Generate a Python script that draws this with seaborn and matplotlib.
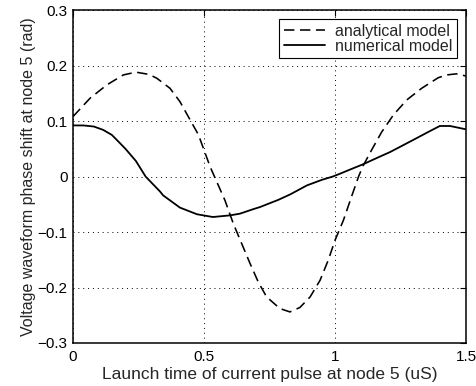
import matplotlib
matplotlib.use("Agg")
import matplotlib.pyplot as plt
import seaborn as sns

# ---- data ----
analytical_x = [0.0, 0.065, 0.129, 0.192, 0.24, 0.29, 0.32, 0.37, 0.408, 0.447,
                0.479, 0.523, 0.58, 0.612, 0.644, 0.676, 0.707, 0.739, 0.79, 0.828,
                0.866, 0.905, 0.943, 0.974, 1.0, 1.032, 1.064, 1.09, 1.107, 1.14,
                1.178, 1.223, 1.274, 1.331, 1.394, 1.426, 1.464, 1.5]
analytical_y = [0.108, 0.141, 0.165, 0.183, 0.188, 0.184, 0.177, 0.159, 0.135, 0.102,
                0.075, 0.018, -0.043, -0.085, -0.121, -0.157, -0.19, -0.217, -0.238, -0.244,
                -0.236, -0.217, -0.187, -0.151, -0.115, -0.079, -0.035, 0.0, 0.019, 0.048,
                0.08, 0.111, 0.138, 0.159, 0.178, 0.183, 0.185, 0.181]

numerical_x = [0.0, 0.04, 0.08, 0.115, 0.148, 0.167, 0.2, 0.24, 0.277, 0.332,
               0.344, 0.408, 0.473, 0.534, 0.6, 0.637, 0.687, 0.714, 0.784, 0.83,
               0.893, 0.95, 0.992, 1.019, 1.06, 1.107, 1.172, 1.21, 1.299, 1.363,
               1.4, 1.439, 1.5]
numerical_y = [0.092, 0.092, 0.09, 0.084, 0.075, 0.066, 0.05, 0.028, 0.0, -0.027,
               -0.034, -0.056, -0.068, -0.073, -0.07, -0.067, -0.059, -0.055, -0.042, -0.032,
               -0.016, -0.006, 0.0, 0.005, 0.013, 0.022, 0.036, 0.044, 0.066, 0.082,
               0.091, 0.091, 0.085]

series_names = ["analytical model", "numerical model"]
x_ticks = [0, 0.5, 1, 1.5]
x_tick_labels = ["0", "0.5", "1", "1.5"]
y_ticks = [0.3, 0.2, 0.1, 0, -0.1, -0.2, -0.3]
y_tick_labels = ["0.3", "0.2", "0.1", "0", "\u22120.1", "\u22120.2", "\u22120.3"]
x_label = "Launch time of current pulse at node 5 (uS)"
y_label = "Voltage waveform phase shift at node 5 (rad)"

# ---- styling ----
sns.set_style("white")
plt.rcParams["font.family"] = ["Liberation Sans", "DejaVu Sans"]
plt.rcParams["font.size"] = 11

fig = plt.figure(figsize=(4.76, 3.86), dpi=100)
ax = fig.add_axes([73 / 476, 1 - 343 / 386, (466 - 73) / 476, (343 - 10) / 386])

sns.lineplot(x=analytical_x, y=analytical_y, ax=ax, color="black",
             linewidth=1.15, linestyle=(0, (6.5, 3.5)), label=series_names[0])
sns.lineplot(x=numerical_x, y=numerical_y, ax=ax, color="black",
             linewidth=1.3, label=series_names[1])

ax.set_xlim(0, 1.5)
ax.set_ylim(-0.3, 0.3)
ax.set_xticks(x_ticks)
ax.set_xticklabels(x_tick_labels)
ax.set_yticks(y_ticks)
ax.set_yticklabels(y_tick_labels)
ax.tick_params(axis="both", direction="in", length=4, width=0.8, top=True, right=True,
               labelsize=11, colors="black")
ax.tick_params(axis="x", pad=5)
ax.tick_params(axis="y", pad=4)
ax.grid(True, color="black", linestyle=(0, (1, 4)), linewidth=0.7)

for s in ax.spines.values():
    s.set_color("black")
    s.set_linewidth(1.1)

ax.set_xlabel(x_label, fontsize=12.5, labelpad=2)
ax.set_ylabel(y_label, fontsize=11.5, labelpad=1)

leg = ax.legend(loc="upper right", frameon=True, fancybox=False, framealpha=1,
                edgecolor="black", fontsize=11.5, handlelength=2.6,
                borderaxespad=0.55, labelspacing=0.0, borderpad=0.3,
                handletextpad=0.6)
leg.get_frame().set_linewidth(0.8)

fig.savefig("out.png", dpi=100)
